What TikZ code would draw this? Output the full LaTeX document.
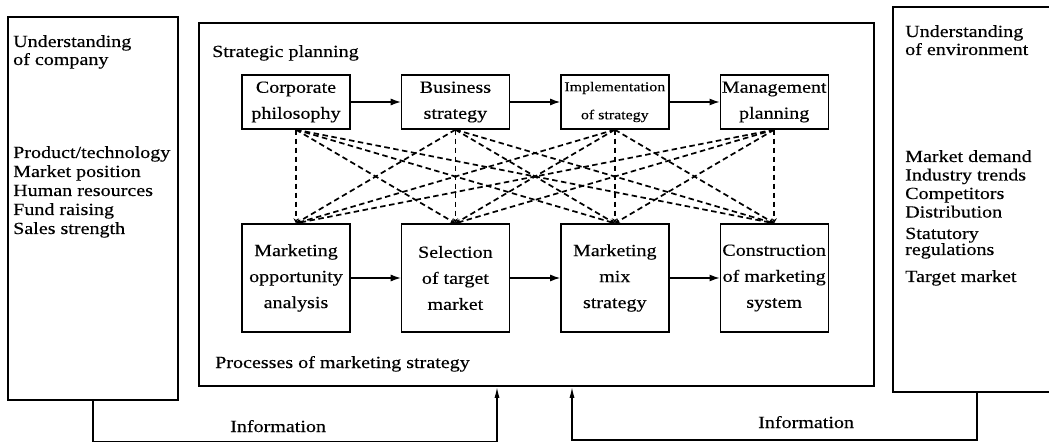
\documentclass[tikz,border=0pt]{standalone}
\usepackage{fontspec}
\setmainfont{Liberation Serif}[FakeStretch=1.18,FakeBold=0.3]
\usetikzlibrary{positioning,arrows.meta}

\begin{document}
\begin{tikzpicture}[x=1pt,y=-1pt,
  box/.style={draw,line width=1.4pt,minimum width=108pt,inner sep=0pt,align=center,font=\fontsize{17}{26}\selectfont},
  topbox/.style={box,minimum height=54pt},
  lowbox/.style={box,minimum height=108pt},
  frame/.style={draw,line width=1.5pt,inner sep=0pt},
  txt/.style={anchor=base west,inner sep=0pt,font=\fontsize{17}{20}\selectfont},
  flow/.style={line width=1.1pt,-{Latex[length=10pt,width=7pt]}},
  link/.style={line width=1.7pt,dash pattern=on 5.5pt off 3.5pt,-{Stealth[length=5pt,width=5pt]}},
  info/.style={line width=1.4pt,-{Latex[length=11pt,width=5pt]}}]
  \useasboundingbox (0,0) rectangle (1049,443);
  \clip (0,0) rectangle (1049,443);

  \node[frame,minimum width=170pt,minimum height=383pt] (comp) at (93,208.5) {};
  \node[frame,minimum width=675pt,minimum height=363pt] (main) at (536.5,204.5) {};
  \node[frame,minimum width=168pt,minimum height=385pt] (env) at (977,199.5) {};

  \node[txt] (co1) at (13,47) {Understanding};
  \node[txt] (co2) at (13,65) {of company};
  \foreach \t [count=\i] in {{Product/technology},Market position,Human resources,Fund raising,Sales strength}
    \node[txt] (cl\i) at (13,139+19*\i) {\t};

  \node[txt] (en1) at (905,37) {Understanding};
  \node[txt] (en2) at (905,55) {of environment};
  \foreach \t [count=\i] in {Market demand,Industry trends,Competitors,Distribution}
    \node[txt] (el\i) at (905,143.5+18.5*\i) {\t};
  \node[txt] (el5) at (905,239) {Statutory};
  \node[txt] (el6) at (905,255) {regulations};
  \node[txt] (el7) at (905,282) {Target market};

  \node[txt] (sp) at (212,57) {Strategic planning};
  \node[txt] (pm) at (215,368) {Processes of marketing strategy};

  \node[topbox] (c1) at (296,102) {Corporate\\philosophy};
  \node[topbox,right=50pt of c1] (c2) {Business\\strategy};
  \node[topbox,right=50pt of c2,font=\fontsize{13.5}{28}\selectfont] (c3) {Implementation\\of strategy};
  \node[topbox,right=50pt of c3] (c4) {Management\\planning};

  \node[lowbox] (m1) at (296,278) {Marketing\\opportunity\\analysis};
  \node[lowbox,right=50pt of m1] (m2) {Selection\\of target\\market};
  \node[lowbox,right=50pt of m2] (m3) {Marketing\\mix\\strategy};
  \node[lowbox,right=50pt of m3] (m4) {Construction\\of marketing\\system};

  \draw[flow] (c1) -- (c2);
  \draw[flow] (c2) -- (c3);
  \draw[flow] (c3) -- (c4);
  \draw[flow] (m1) -- (m2);
  \draw[flow] (m2) -- (m3);
  \draw[flow] (m3) -- (m4);

  \foreach \a in {1,...,4}
    \foreach \b in {1,...,4}
      \draw[link] (c\a.south) -- (m\b.north);

  \coordinate (b1) at (0,441.5);
  \coordinate (b2) at (0,440);
  \coordinate (i1) at ([xshift=-39.5pt]main.south);
  \coordinate (i2) at ([xshift=35.5pt]main.south);
  \draw[info] (comp.south) -- (comp.south |- b1) -| (i1);
  \draw[info] (env.south) -- (env.south |- b2) -| (i2);
  \node[txt] (inf1) at (230,432) {Information};
  \node[txt] (inf2) at (758,428) {Information};
\end{tikzpicture}
\end{document}
